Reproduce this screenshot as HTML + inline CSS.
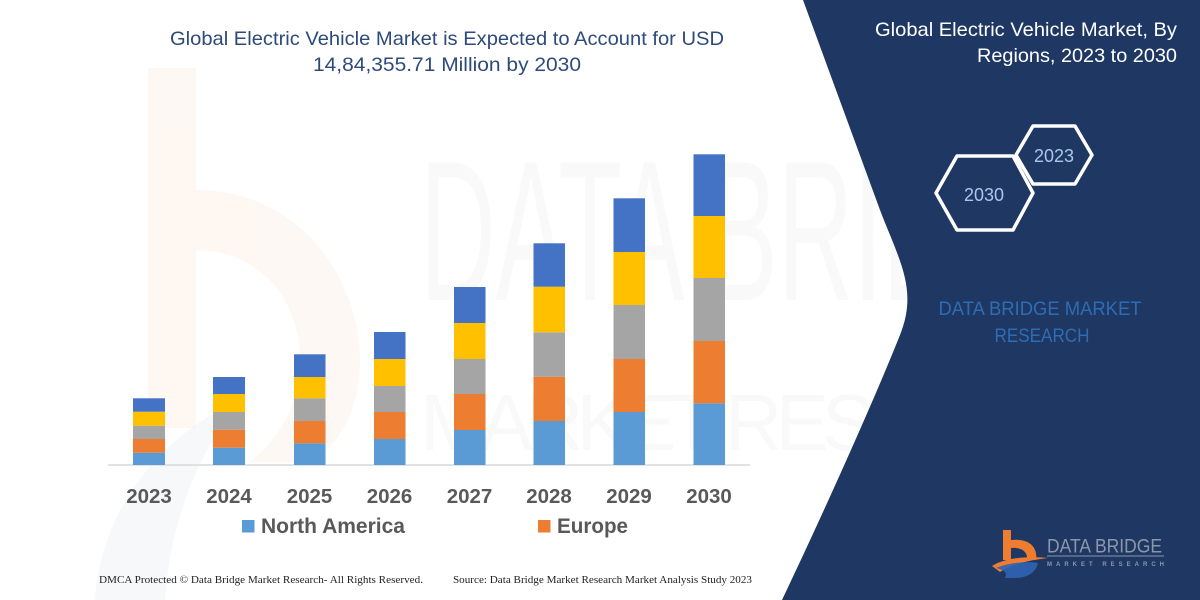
<!DOCTYPE html>
<html>
<head>
<meta charset="utf-8">
<style>
  html, body { margin:0; padding:0; background:#ffffff; }
  body { width:1200px; height:600px; overflow:hidden; }
  svg { display:block; }
</style>
</head>
<body>
<svg width="1200" height="600" viewBox="0 0 1200 600" xmlns="http://www.w3.org/2000/svg">
  <rect x="0" y="0" width="1200" height="600" fill="#ffffff"/>

  <!-- faint watermark: orange "b" -->
  <g opacity="0.06">
    <rect x="148" y="68" width="48" height="360" fill="#f08a3c"/>
    <path d="M196,190 C300,190 360,280 360,360 C360,430 320,462 300,462 L250,462 C290,430 300,390 300,360 C300,300 260,250 196,250 Z" fill="#f08a3c"/>
  </g>
  <!-- faint watermark: blue swoosh bottom-left -->
  <path d="M95,600 C100,520 150,440 240,400 C200,450 170,520 165,600 Z" fill="#e6ebf2" opacity="0.35"/>
  <!-- faint watermark letters -->
  <g fill="#000" opacity="0.018" font-family="Liberation Sans, sans-serif">
    <text x="420" y="300" font-size="200" textLength="690" lengthAdjust="spacingAndGlyphs">DATA BRIDGE</text>
    <text x="420" y="450" font-size="80" textLength="700" lengthAdjust="spacing">MARKET RESEARCH</text>
  </g>

  <!-- navy right panel -->
  <path d="M803,0 L1200,0 L1200,600 L782,600 C820,520 870,410 900,335 C918,290 900,262 880,210 Z" fill="#1f3763"/>

  <!-- main title -->
  <g font-family="Liberation Sans, sans-serif" fill="#2d4a7a" font-size="19.5" text-anchor="middle">
    <text x="447" y="45" textLength="554" lengthAdjust="spacingAndGlyphs">Global Electric Vehicle Market is Expected to Account for USD</text>
    <text x="447" y="71" textLength="268" lengthAdjust="spacingAndGlyphs">14,84,355.71 Million by 2030</text>
  </g>

  <!-- axis line -->
  <line x1="108" y1="465" x2="750" y2="465" stroke="#d9d9d9" stroke-width="1.5"/>

  <!-- bars -->
  <g>
    <!-- 2023 -->
    <rect x="133" y="452.7" width="32" height="12.3" fill="#5b9bd5"/>
    <rect x="133" y="439" width="32" height="13.7" fill="#ed7d31"/>
    <rect x="133" y="425.7" width="32" height="13.3" fill="#a5a5a5"/>
    <rect x="133" y="411.7" width="32" height="14" fill="#ffc000"/>
    <rect x="133" y="398.3" width="32" height="13.4" fill="#4472c4"/>
    <!-- 2024 -->
    <rect x="213" y="447.7" width="32" height="17.3" fill="#5b9bd5"/>
    <rect x="213" y="429.7" width="32" height="18" fill="#ed7d31"/>
    <rect x="213" y="412" width="32" height="17.7" fill="#a5a5a5"/>
    <rect x="213" y="394" width="32" height="18" fill="#ffc000"/>
    <rect x="213" y="377" width="32" height="17" fill="#4472c4"/>
    <!-- 2025 -->
    <rect x="294" y="443.3" width="31.5" height="21.7" fill="#5b9bd5"/>
    <rect x="294" y="421" width="31.5" height="22.3" fill="#ed7d31"/>
    <rect x="294" y="398.3" width="31.5" height="22.7" fill="#a5a5a5"/>
    <rect x="294" y="377" width="31.5" height="21.3" fill="#ffc000"/>
    <rect x="294" y="354.3" width="31.5" height="22.7" fill="#4472c4"/>
    <!-- 2026 -->
    <rect x="374" y="439" width="31.5" height="26" fill="#5b9bd5"/>
    <rect x="374" y="412" width="31.5" height="27" fill="#ed7d31"/>
    <rect x="374" y="386" width="31.5" height="26" fill="#a5a5a5"/>
    <rect x="374" y="359" width="31.5" height="27" fill="#ffc000"/>
    <rect x="374" y="332" width="31.5" height="27" fill="#4472c4"/>
    <!-- 2027 -->
    <rect x="454" y="430" width="31.5" height="35" fill="#5b9bd5"/>
    <rect x="454" y="394" width="31.5" height="36" fill="#ed7d31"/>
    <rect x="454" y="359" width="31.5" height="35" fill="#a5a5a5"/>
    <rect x="454" y="323" width="31.5" height="36" fill="#ffc000"/>
    <rect x="454" y="287" width="31.5" height="36" fill="#4472c4"/>
    <!-- 2028 -->
    <rect x="533.5" y="421" width="31.5" height="44" fill="#5b9bd5"/>
    <rect x="533.5" y="376.7" width="31.5" height="44.3" fill="#ed7d31"/>
    <rect x="533.5" y="332.3" width="31.5" height="44.4" fill="#a5a5a5"/>
    <rect x="533.5" y="286.7" width="31.5" height="45.6" fill="#ffc000"/>
    <rect x="533.5" y="243.3" width="31.5" height="43.4" fill="#4472c4"/>
    <!-- 2029 -->
    <rect x="613.5" y="412" width="31.5" height="53" fill="#5b9bd5"/>
    <rect x="613.5" y="359" width="31.5" height="53" fill="#ed7d31"/>
    <rect x="613.5" y="305" width="31.5" height="54" fill="#a5a5a5"/>
    <rect x="613.5" y="252" width="31.5" height="53" fill="#ffc000"/>
    <rect x="613.5" y="198.3" width="31.5" height="53.7" fill="#4472c4"/>
    <!-- 2030 -->
    <rect x="693.5" y="403.3" width="31.5" height="61.7" fill="#5b9bd5"/>
    <rect x="693.5" y="341" width="31.5" height="62.3" fill="#ed7d31"/>
    <rect x="693.5" y="278" width="31.5" height="63" fill="#a5a5a5"/>
    <rect x="693.5" y="216" width="31.5" height="62" fill="#ffc000"/>
    <rect x="693.5" y="154.3" width="31.5" height="61.7" fill="#4472c4"/>
  </g>

  <!-- year labels -->
  <g font-family="Liberation Sans, sans-serif" font-weight="bold" font-size="20.5" fill="#595959" text-anchor="middle">
    <text x="149" y="503">2023</text>
    <text x="229" y="503">2024</text>
    <text x="309.5" y="503">2025</text>
    <text x="389.5" y="503">2026</text>
    <text x="469.5" y="503">2027</text>
    <text x="549" y="503">2028</text>
    <text x="629" y="503">2029</text>
    <text x="709" y="503">2030</text>
  </g>

  <!-- legend -->
  <rect x="242" y="520" width="12.5" height="12.5" fill="#5b9bd5"/>
  <text x="261" y="533" font-family="Liberation Sans, sans-serif" font-weight="bold" font-size="21" fill="#595959" textLength="144" lengthAdjust="spacingAndGlyphs">North America</text>
  <rect x="538" y="520" width="12.5" height="12.5" fill="#ed7d31"/>
  <text x="557" y="533" font-family="Liberation Sans, sans-serif" font-weight="bold" font-size="21" fill="#595959" textLength="71" lengthAdjust="spacingAndGlyphs">Europe</text>

  <!-- footer -->
  <g font-family="Liberation Serif, serif" font-size="10.5" fill="#222">
    <text x="99" y="583" textLength="324" lengthAdjust="spacingAndGlyphs">DMCA Protected © Data Bridge Market Research-  All Rights Reserved.</text>
    <text x="453" y="583" textLength="299" lengthAdjust="spacingAndGlyphs">Source: Data Bridge Market Research  Market Analysis Study 2023</text>
  </g>

  <!-- right panel title -->
  <g font-family="Liberation Sans, sans-serif" fill="#ffffff" font-size="19.5" text-anchor="end">
    <text x="1177" y="36" textLength="302" lengthAdjust="spacingAndGlyphs">Global Electric Vehicle Market, By</text>
    <text x="1177" y="62" textLength="200" lengthAdjust="spacingAndGlyphs">Regions, 2023 to 2030</text>
  </g>

  <!-- hexagons -->
  <g fill="#1f3763" stroke="#ffffff" stroke-width="3.5" stroke-linejoin="round">
    <polygon points="1016,155 1033,126 1075,126 1092,155 1075,184 1033,184"/>
    <polygon points="936,193 957,156 1013,156 1033,193 1013,230 957,230"/>
  </g>
  <g font-family="Liberation Sans, sans-serif" fill="#a9c8ec" font-size="18" text-anchor="middle">
    <text x="1054" y="162">2023</text>
    <text x="984" y="201">2030</text>
  </g>

  <!-- DATA BRIDGE MARKET RESEARCH -->
  <g font-family="Liberation Sans, sans-serif" fill="#2e6db4" font-size="19" text-anchor="middle">
    <text x="1040" y="315" textLength="203" lengthAdjust="spacingAndGlyphs">DATA BRIDGE MARKET</text>
    <text x="1042" y="342" textLength="95" lengthAdjust="spacingAndGlyphs">RESEARCH</text>
  </g>

  <!-- bottom-right logo -->
  <g>
    <rect x="1003" y="530" width="8" height="30" fill="#ee7d31"/>
    <path d="M1011,540 C1030,538 1038,548 1036,560 L1027,560 C1028,552 1022,547 1011,548 Z" fill="#ee7d31"/>
    <path d="M992,566 C1005,558 1025,556 1048,558 C1030,560 1012,564 1000,572 Z" fill="#ee7d31"/>
    <path d="M996,568 C1010,562 1030,561 1038,563 C1036,572 1028,578 1015,578 L1005,578 C1008,572 1004,570 996,568 Z" fill="#2f64b4" opacity="0.9"/>
    <text x="1047" y="552.5" font-family="Liberation Sans, sans-serif" font-size="19" fill="#8d97aa" textLength="115" lengthAdjust="spacingAndGlyphs">DATA BRIDGE</text>
    <line x1="1047" y1="556" x2="1164" y2="556" stroke="#8d97aa" stroke-width="1"/>
    <text x="1047" y="566" font-family="Liberation Sans, sans-serif" font-size="6" font-weight="bold" fill="#8d97aa" textLength="117" lengthAdjust="spacing">MARKET RESEARCH</text>
  </g>
</svg>
</body>
</html>
